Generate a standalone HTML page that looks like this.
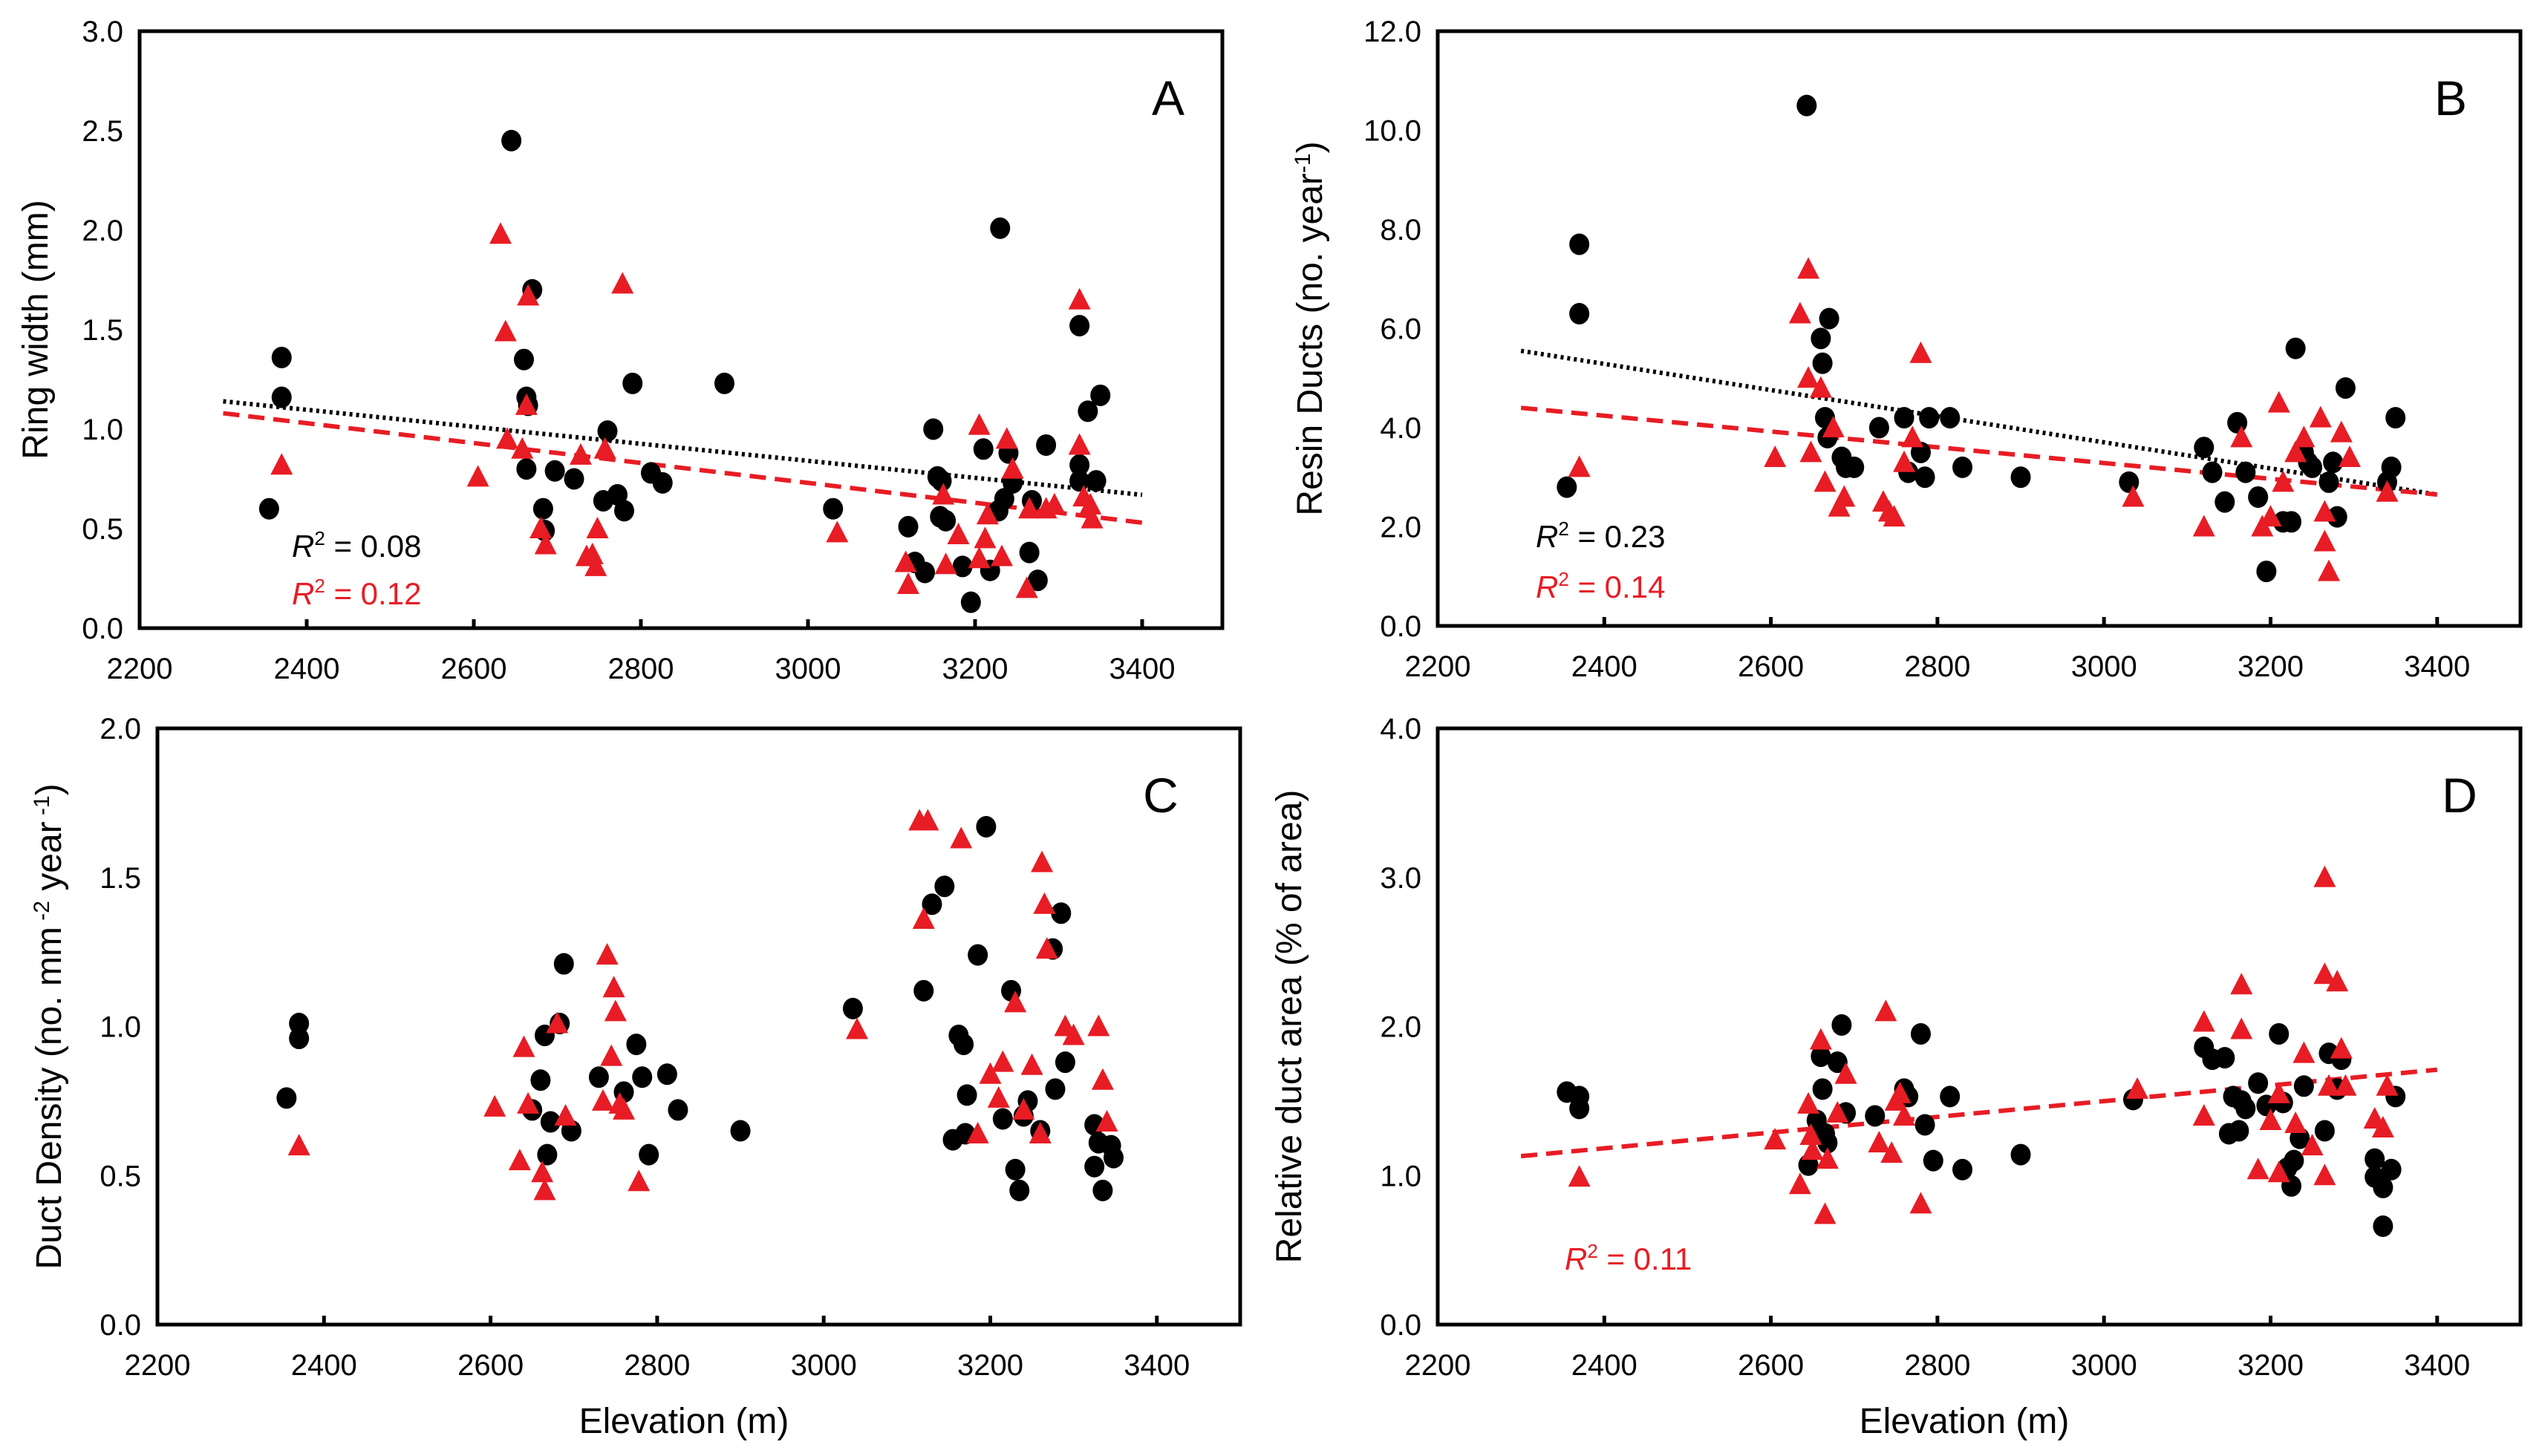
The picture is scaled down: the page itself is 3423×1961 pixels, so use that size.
<!DOCTYPE html>
<html><head><meta charset="utf-8">
<style>
html,body{margin:0;padding:0;background:#fff;}
svg{display:block;}
text{font-family:"Liberation Sans",sans-serif;}
</style></head>
<body>
<svg id="fig" width="3423" height="1961" viewBox="0 0 3423 1961" xmlns="http://www.w3.org/2000/svg"></svg>
<script>
// ---------- Data ----------
const xTicks = [2200, 2400, 2600, 2800, 3000, 3200, 3400];
const aBlackX = [2355,2370,2370,2645,2660,2663,2665,2670,2663,2683,2685,2697,2720,2760,2755,2772,2780,2790,2812,2826,2900,3030,3120,3128,3140,3150,3155,3160,3158,3165,3185,3195,3210,3218,3230,3228,3235,3240,3245,3265,3268,3275,3285,3325,3325,3325,3335,3345,3350];
const aBlackY = [0.60,1.36,1.16,2.45,1.35,1.16,1.12,1.70,0.80,0.60,0.49,0.79,0.75,0.99,0.64,0.67,0.59,1.23,0.78,0.73,1.23,0.60,0.51,0.33,0.28,1.00,0.76,0.74,0.56,0.54,0.31,0.13,0.90,0.29,2.01,0.59,0.65,0.88,0.73,0.38,0.64,0.24,0.92,1.52,0.82,0.74,1.09,0.74,1.17];
const aRedX = [2370,2605,2632,2638,2640,2658,2663,2665,2680,2686,2728,2735,2742,2746,2748,2757,2778,3035,3117,3120,3162,3165,3180,3205,3205,3212,3215,3232,3238,3245,3262,3265,3285,3295,3325,3325,3330,3338,3340];
const aRedY = [0.82,0.76,1.98,1.49,0.95,0.90,1.12,1.67,0.50,0.42,0.87,0.36,0.37,0.31,0.50,0.90,1.73,0.48,0.33,0.22,0.67,0.32,0.47,1.02,0.35,0.45,0.57,0.36,0.95,0.80,0.20,0.60,0.60,0.62,1.65,0.92,0.66,0.62,0.55];
const aYTicks = [0.0,0.5,1.0,1.5,2.0,2.5,3.0];
const aBlackFit = [1.14, 0.67];
const aRedFit = [1.08, 0.53];

const bBlackX = [2355,2370,2370,2643,2660,2662,2665,2668,2670,2685,2690,2700,2730,2765,2760,2780,2785,2790,2815,2830,2900,3030,3120,3130,3145,3160,3170,3185,3195,3215,3225,3230,3240,3245,3250,3270,3275,3280,3290,3340,3345,3350];
const bBlackY = [2.8,7.7,6.3,10.5,5.8,5.3,4.2,3.8,6.2,3.4,3.2,3.2,4.0,3.1,4.2,3.5,3.0,4.2,4.2,3.2,3.0,2.9,3.6,3.1,2.5,4.1,3.1,2.6,1.1,2.1,2.1,5.6,3.5,3.3,3.2,2.9,3.3,2.2,4.8,2.9,3.2,4.2];
const bRedX = [2370,2605,2635,2645,2645,2648,2660,2665,2675,2682,2688,2735,2742,2748,2760,2770,2780,3035,3120,3165,3190,3200,3210,3215,3230,3240,3260,3265,3265,3270,3285,3295,3340];
const bRedY = [3.2,3.4,6.3,7.2,5.0,3.5,4.8,2.9,4.0,2.4,2.6,2.5,2.3,2.2,3.3,3.8,5.5,2.6,2.0,3.8,2.0,2.2,4.5,2.9,3.5,3.8,4.2,2.3,1.7,1.1,3.9,3.4,2.7];
const bYTicks = [0,2,4,6,8,10,12];
const bBlackFit = [5.55, 2.65];
const bRedFit = [4.4, 2.65];

const cBlackX = [2355,2370,2370,2650,2660,2665,2668,2672,2683,2688,2697,2730,2760,2775,2782,2790,2812,2825,2900,3035,3120,3130,3145,3155,3162,3168,3170,3172,3185,3195,3215,3225,3230,3235,3240,3245,3260,3275,3278,3285,3290,3325,3325,3330,3335,3345,3348];
const cBlackY = [0.76,1.01,0.96,0.72,0.82,0.97,0.57,0.68,1.01,1.21,0.65,0.83,0.78,0.94,0.83,0.57,0.84,0.72,0.65,1.06,1.12,1.41,1.47,0.62,0.97,0.94,0.64,0.77,1.24,1.67,0.69,1.12,0.52,0.45,0.70,0.75,0.65,1.26,0.79,1.38,0.88,0.67,0.53,0.61,0.45,0.60,0.56];
const cRedX = [2370,2605,2635,2640,2645,2662,2665,2680,2690,2735,2740,2745,2748,2750,2755,2760,2778,3040,3115,3120,3125,3165,3185,3200,3210,3215,3230,3240,3250,3260,3262,3265,3268,3290,3300,3330,3335,3340];
const cRedY = [0.60,0.73,0.55,0.93,0.74,0.51,0.45,1.01,0.70,0.75,1.24,0.90,1.13,1.05,0.74,0.72,0.48,0.99,1.69,1.36,1.69,1.63,0.64,0.84,0.76,0.88,1.08,0.72,0.87,0.64,1.55,1.41,1.26,1.00,0.97,1.00,0.82,0.68];
const cYTicks = [0.0,0.5,1.0,1.5,2.0];

const dBlackX = [2355,2370,2370,2645,2655,2660,2662,2665,2668,2685,2680,2690,2725,2760,2765,2780,2785,2795,2815,2830,2900,3035,3120,3130,3145,3150,3155,3162,3165,3170,3185,3195,3210,3215,3220,3225,3228,3235,3240,3265,3270,3285,3280,3325,3325,3335,3335,3345,3350];
const dBlackY = [1.56,1.53,1.45,1.07,1.37,1.80,1.58,1.28,1.22,2.01,1.76,1.42,1.40,1.58,1.53,1.95,1.34,1.10,1.53,1.04,1.14,1.51,1.86,1.78,1.79,1.28,1.53,1.30,1.50,1.45,1.62,1.47,1.95,1.49,1.05,0.93,1.10,1.25,1.60,1.30,1.82,1.78,1.58,1.11,0.99,0.66,0.92,1.04,1.53];
const dRedX = [2370,2605,2635,2645,2648,2650,2660,2665,2668,2680,2690,2730,2738,2745,2750,2755,2760,2780,3040,3120,3120,3165,3165,3185,3200,3210,3210,3230,3240,3250,3265,3265,3265,3270,3280,3285,3290,3325,3335,3340];
const dRedY = [0.99,1.24,0.94,1.48,1.27,1.17,1.91,0.74,1.11,1.42,1.68,1.22,2.10,1.15,1.50,1.55,1.40,0.81,1.58,2.03,1.40,2.28,1.98,1.04,1.37,1.02,1.55,1.35,1.82,1.20,3.00,2.35,1.00,1.60,2.30,1.85,1.60,1.38,1.32,1.60];
const dYTicks = [0.0,1.0,2.0,3.0,4.0];
const dRedFit = [1.13, 1.71];

// ---------- Drawing ----------
const NS = 'http://www.w3.org/2000/svg';
const svg = document.getElementById('fig');
function mk(tag, attrs, parent, txt){
  const e = document.createElementNS(NS, tag);
  for (const k in attrs) e.setAttribute(k, attrs[k]);
  if (txt !== undefined) e.textContent = txt;
  (parent || svg).appendChild(e);
  return e;
}
const RED = '#e81c24';

function panel(cfg){
  const g = mk('g', {});
  
  
  const L = cfg.left, T = cfg.top, B = cfg.bottom, R = cfg.right;
  const pxPer200 = cfg.px200;
  const xs = e => L + (e - 2200) / 200 * pxPer200;
  const ys = v => B - v / cfg.ymax * (B - T);

  cfg.yTicks.forEach(v => {
    const t = mk('text', {x: L - 22, y: ys(v) + 14, 'text-anchor': 'end', 'font-size': 40, fill: '#000'}, g, v.toFixed(1));
    
    
  });
  xTicks.forEach(v => {
    const x = xs(v);
    if (v > 2200) {
      const tk = mk('line', {x1: x, x2: x, y1: B, y2: B - 12, stroke: '#000', 'stroke-width': 5}, g);
      
      
    }
    const t = mk('text', {x: x, y: B + 68, 'text-anchor': 'middle', 'font-size': 40, fill: '#000'}, g, String(v));
    
    
  });

  if (cfg.blackFit) {
    const l = mk('line', {x1: xs(2300), y1: ys(cfg.blackFit[0]), x2: xs(3400), y2: ys(cfg.blackFit[1]), stroke: '#000', 'stroke-width': 6, 'stroke-dasharray': '4 5'}, g);
    
    
  }
  if (cfg.redFit) {
    const l = mk('line', {x1: xs(2300), y1: ys(cfg.redFit[0]), x2: xs(3400), y2: ys(cfg.redFit[1]), stroke: RED, 'stroke-width': 6, 'stroke-dasharray': '22 12'}, g);
    
    
  }
  cfg.bx.forEach((e, i) => {
    const c = mk('ellipse', {cx: xs(e), cy: ys(cfg.by[i]), rx: 13.5, ry: 14.5, fill: '#000'}, g);
    
    
  });
  cfg.rx.forEach((e, i) => {
    const x = xs(e), y = ys(cfg.ry[i]);
    const p = mk('polygon', {points: `${x},${y-16} ${x-15},${y+13} ${x+15},${y+13}`, fill: RED}, g);
    
    
  });

  const fr = mk('rect', {x: L, y: T, width: R - L, height: B - T, fill: 'none', stroke: '#000', 'stroke-width': 5}, g);
  
  

  const lt = mk('text', {x: cfg.letterX, y: T + 113, 'text-anchor': 'middle', 'font-size': 66, fill: '#000'}, g, cfg.letter);
  
  

  const yt = mk('text', {x: 0, y: 0, 'text-anchor': 'middle', 'font-size': 48, fill: '#000', transform: `translate(${cfg.ytX},${(T + B) / 2}) rotate(-90)`}, g);
  
  
  yt.innerHTML = cfg.ytitle;

  cfg.r2.forEach(r => {
    const t = mk('text', {x: r.x, y: r.y, 'font-size': 42, fill: r.c}, g);
    
    
    t.innerHTML = '<tspan font-style="italic">R</tspan><tspan font-size="26" dy="-16">2</tspan><tspan dy="16"> = ' + r.v + '</tspan>';
  });
  if (cfg.xtitle) {
    const t = mk('text', {x: (L + R) / 2 - 20, y: 1930, 'text-anchor': 'middle', 'font-size': 48, fill: '#000'}, g, 'Elevation (m)');
    
    
  }
}

panel({name:'panel-a-ring-width', left:188, right:1646, top:42, bottom:846, px200:225, ymax:3.0, yTicks:aYTicks,
  bx:aBlackX, by:aBlackY, rx:aRedX, ry:aRedY, blackFit:aBlackFit, redFit:aRedFit, letter:'A', letterX:1573,
  ytX:64, ytitle:'Ring width (mm)',
  r2:[{x:393,y:750,c:'#000',v:'0.08'},{x:393,y:814,c:RED,v:'0.12'}]});
panel({name:'panel-b-resin-ducts', left:1936, right:3394, top:42, bottom:843, px200:224.3, ymax:12, yTicks:bYTicks,
  bx:bBlackX, by:bBlackY, rx:bRedX, ry:bRedY, blackFit:bBlackFit, redFit:bRedFit, letter:'B', letterX:3300,
  ytX:1780, ytitle:'Resin Ducts (no. year<tspan font-size="30" dy="-16">-1</tspan><tspan dy="16">)</tspan>',
  r2:[{x:2068,y:737,c:'#000',v:'0.23'},{x:2068,y:805,c:RED,v:'0.14'}]});
panel({name:'panel-c-duct-density', left:212, right:1670, top:981, bottom:1784, px200:224.3, ymax:2.0, yTicks:cYTicks,
  bx:cBlackX, by:cBlackY, rx:cRedX, ry:cRedY, letter:'C', letterX:1563,
  ytX:82, ytitle:'Duct Density (no. mm<tspan font-size="30" dy="-16"> -2</tspan><tspan dy="16">  year</tspan><tspan font-size="30" dy="-16"> -1</tspan><tspan dy="16">)</tspan>',
  r2:[], xtitle:true});
panel({name:'panel-d-relative-duct-area', left:1936, right:3394, top:981, bottom:1784, px200:224.3, ymax:4.0, yTicks:dYTicks,
  bx:dBlackX, by:dBlackY, rx:dRedX, ry:dRedY, redFit:dRedFit, letter:'D', letterX:3312,
  ytX:1752, ytitle:'Relative duct area (% of area)',
  r2:[{x:2107,y:1710,c:RED,v:'0.11'}], xtitle:true});
</script>
</body></html>
